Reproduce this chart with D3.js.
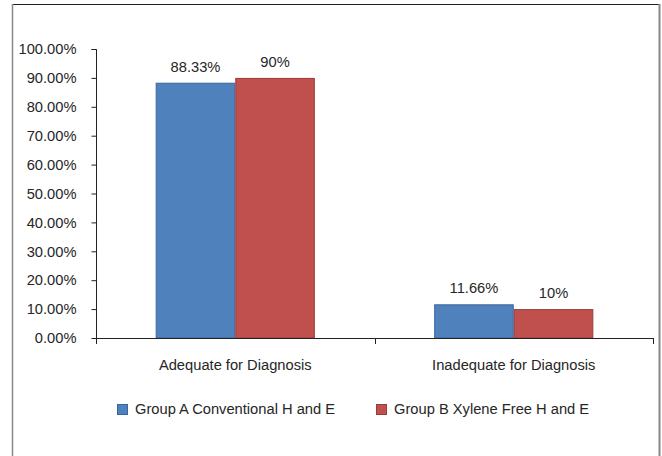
<!DOCTYPE html>
<html><head><meta charset="utf-8">
<script src="https://cdn.jsdelivr.net/npm/d3@7"></script>
<style>body{margin:0;background:#fff}svg{display:block}text{font-family:"Liberation Sans",Arial,sans-serif;fill:#262626}</style>
</head><body><svg id="c" width="662" height="456"></svg>
<script>
const categories = ["Adequate for Diagnosis", "Inadequate for Diagnosis"];
const seriesNames = ["Group A Conventional H and E", "Group B Xylene Free H and E"];
const groupA = [88.33, 11.66];
const groupB = [90, 10];
const valueLabels = [["88.33%", "11.66%"], ["90%", "10%"]];
const yTicks = [0, 10, 20, 30, 40, 50, 60, 70, 80, 90, 100];
const colors = ["#4F81BD", "#C0504D"];
const strokes = ["#3A65A0", "#9B3B38"];

(function(){
const svg = d3.select("#c");
const fs = 14.7;
// frame
svg.append("line").attr("x1",12).attr("x2",660).attr("y1",4.5).attr("y2",4.5).attr("stroke","#222").attr("stroke-width",1.2);
svg.append("line").attr("x1",12.5).attr("x2",12.5).attr("y1",4).attr("y2",456).attr("stroke","#888").attr("stroke-width",1.5);
svg.append("line").attr("x1",659.5).attr("x2",659.5).attr("y1",4).attr("y2",456).attr("stroke","#888").attr("stroke-width",2);

const mLeft = 96, mRight = 653, mTop = 49, mBottom = 338;
const x0 = d3.scaleBand().domain(categories).range([mLeft, mRight]).paddingInner(0).paddingOuter(0);
const x1 = d3.scaleBand().domain([0,1]).range([0, x0.bandwidth()]).paddingInner(0).paddingOuter(0.75);
const y = d3.scaleLinear().domain([0, 100]).range([mBottom, mTop]);

// y axis
const yAxis = svg.append("g").attr("transform", `translate(${mLeft+0.5},0)`)
  .call(d3.axisLeft(y).tickValues(yTicks).tickSize(5).tickPadding(15).tickFormat(d => d.toFixed(2) + "%"));
yAxis.select(".domain").attr("stroke","#222").attr("d", `M-5,${mTop+0.5}H0V${mBottom+5}`);
yAxis.selectAll(".tick line").attr("stroke","#222");
yAxis.selectAll(".tick text").style("font-size", fs+"px").attr("fill","#262626");

const series = [groupA, groupB];
series.forEach((vals, si) => {
  svg.append("g").selectAll("rect").data(vals).join("rect")
    .attr("x", (d,i) => x0(categories[i]) + x1(si) + 0.5)
    .attr("y", d => y(d) + 0.5)
    .attr("width", x1.bandwidth() - 1)
    .attr("height", d => mBottom - y(d) - 0.5)
    .attr("fill", colors[si]).attr("stroke", strokes[si]).attr("stroke-width", 1);
  svg.append("g").selectAll("text").data(vals).join("text")
    .attr("x", (d,i) => x0(categories[i]) + x1(si) + x1.bandwidth()/2)
    .attr("y", d => y(d) - 11)
    .attr("text-anchor","middle").style("font-size", fs+"px")
    .text((d,i) => valueLabels[si][i]);
});

// x axis
const xAxis = svg.append("g").attr("transform", `translate(0,${mBottom+0.5})`)
  .call(d3.axisBottom(x0).tickSize(0).tickPadding(21));
xAxis.select(".domain").attr("stroke","#222").attr("d", `M${mLeft},0H${mRight}`);
xAxis.selectAll(".tick text").style("font-size", fs+"px").attr("fill","#262626");
const bounds = [mLeft, mLeft + x0.bandwidth(), mRight];
svg.append("g").selectAll("line").data(bounds).join("line")
  .attr("x1", d => Math.round(d)+0.5).attr("x2", d => Math.round(d)+0.5)
  .attr("y1", mBottom).attr("y2", mBottom+6).attr("stroke","#222");

// legend
const legX = [117, 376];
const leg = svg.append("g").selectAll("g").data(seriesNames).join("g")
  .attr("transform", (d,i) => `translate(${legX[i]},404)`);
leg.append("rect").attr("x",0.5).attr("y",0.5).attr("width",10).attr("height",10)
  .attr("fill",(d,i)=>colors[i]).attr("stroke",(d,i)=>strokes[i]);
leg.append("text").attr("x",18).attr("y",10).style("font-size", fs+"px").text(d=>d);
})();
</script></body></html>
